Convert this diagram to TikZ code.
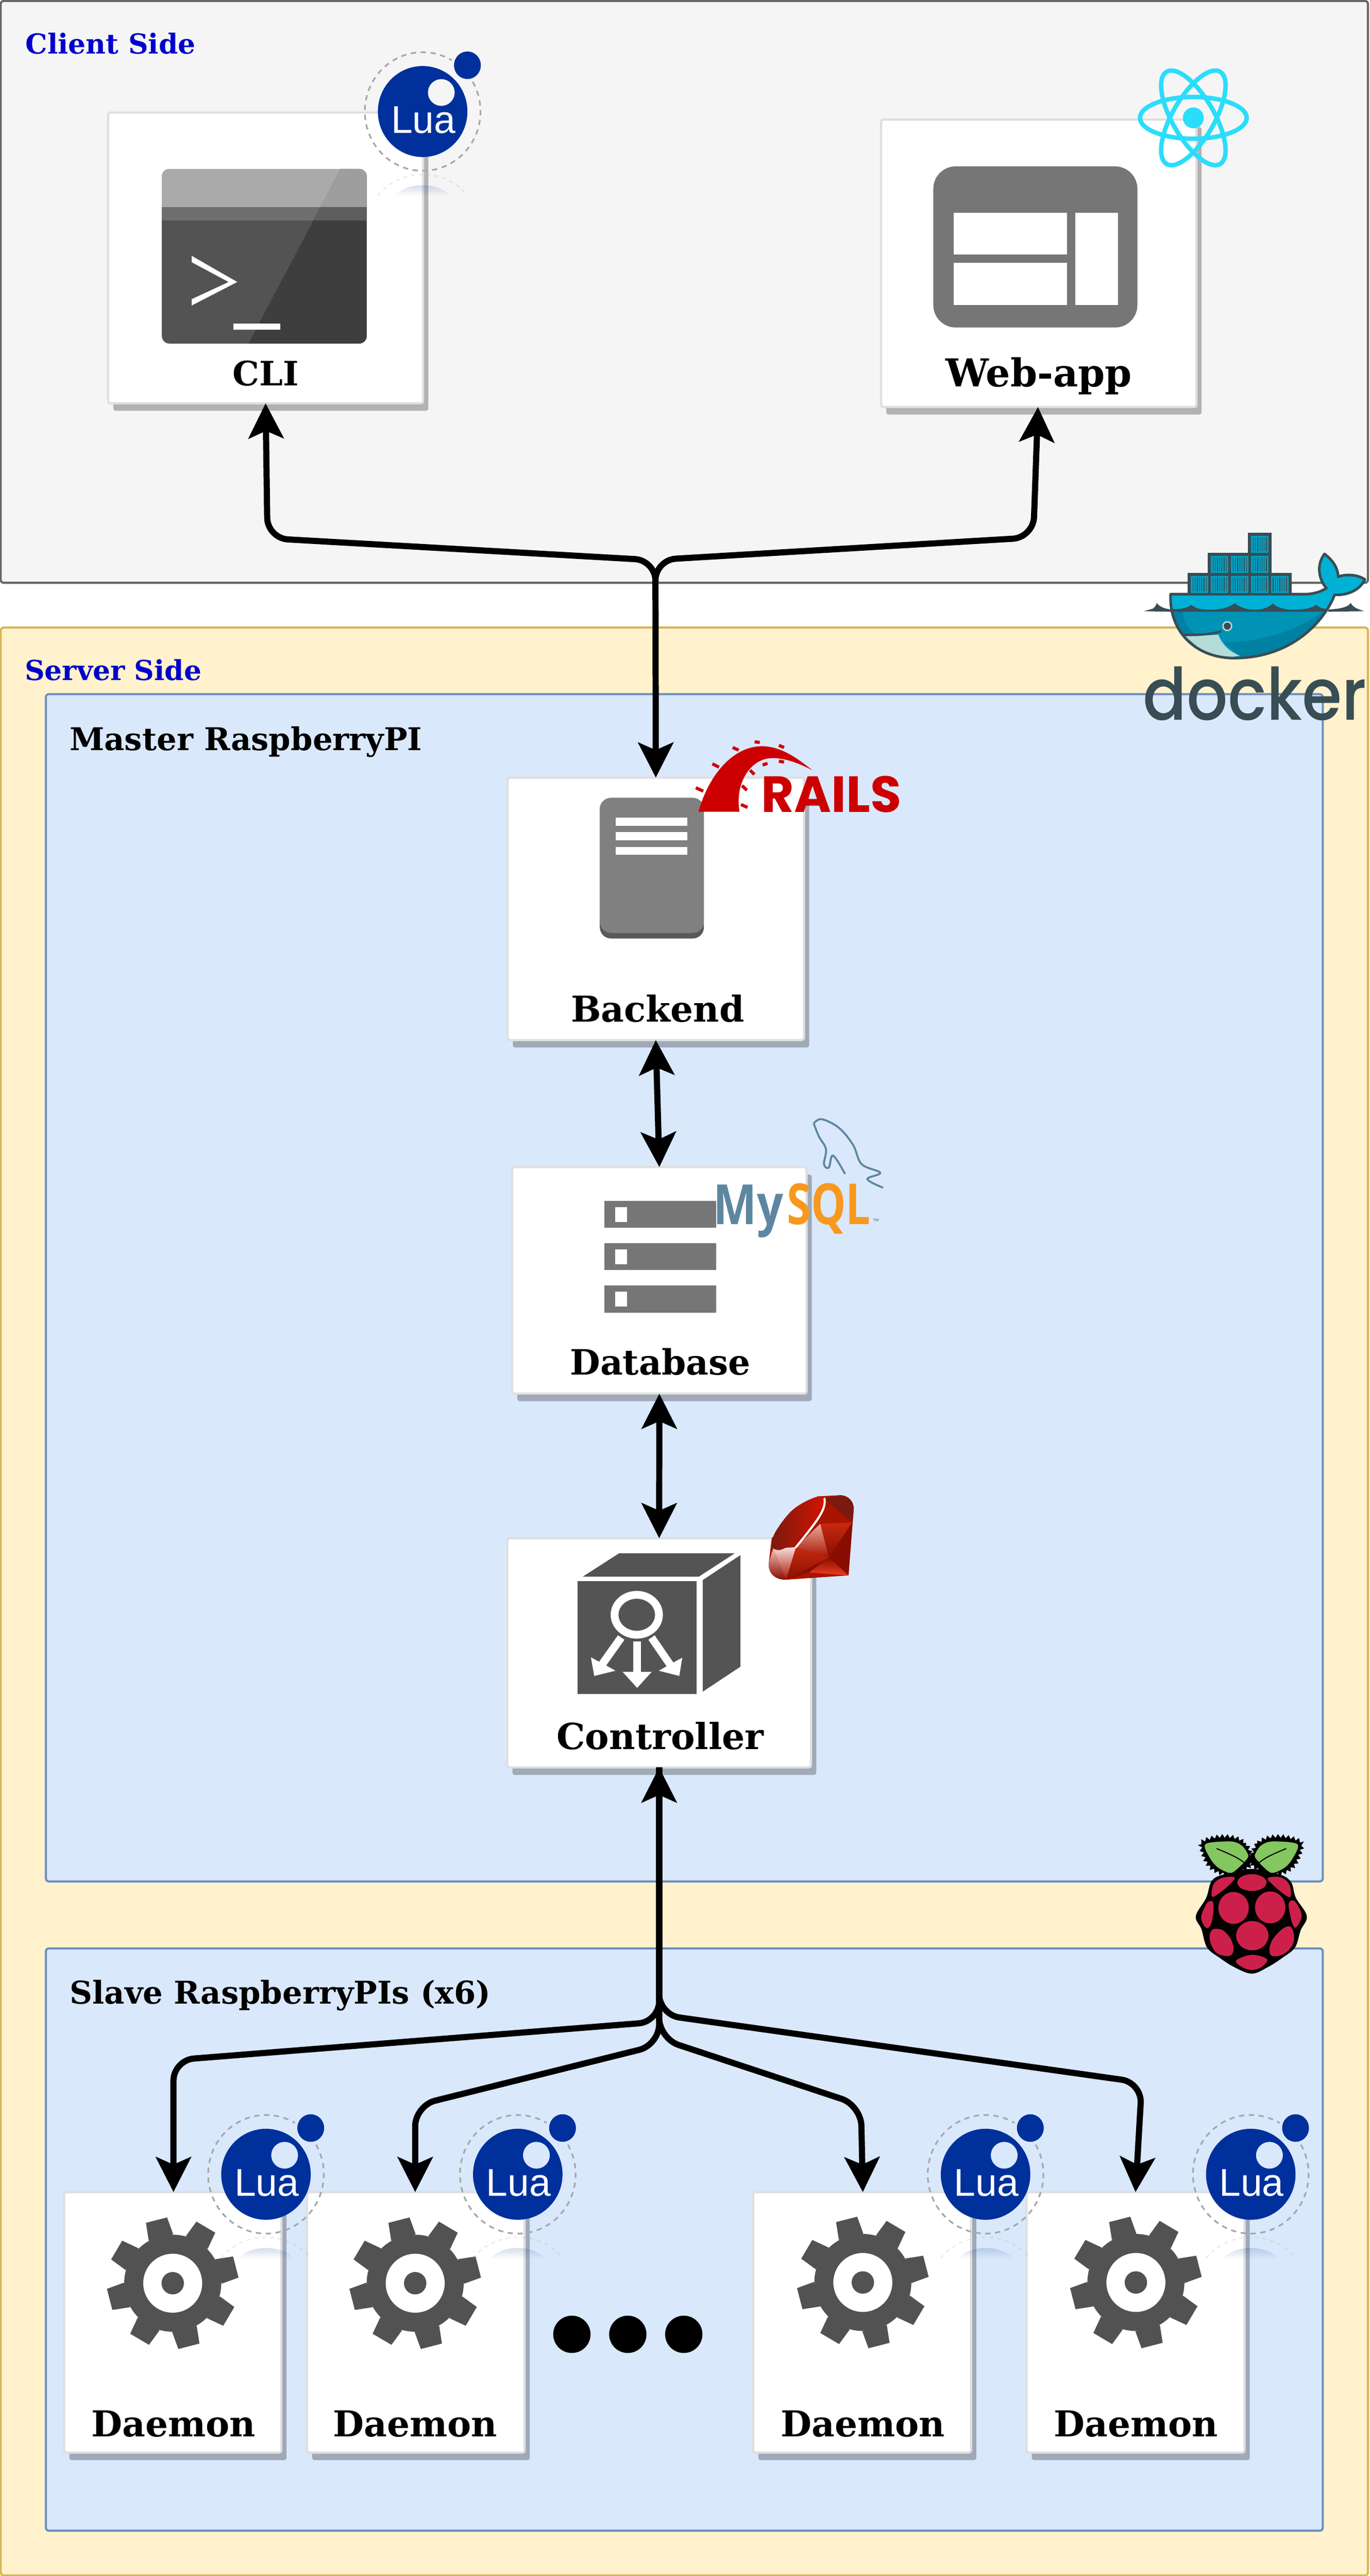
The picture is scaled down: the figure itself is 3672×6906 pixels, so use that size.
\documentclass[tikz,border=0pt]{standalone}
\usepackage{fontspec}
\usepackage{graphicx}
\usetikzlibrary{arrows.meta,shadows,fadings,decorations.pathmorphing}
\setmainfont{DejaVu Serif}
\newfontfamily\luafont{Liberation Sans}
\newfontfamily\mysqlfont{Open Sans}
\newfontfamily\dockerfont{Poppins Medium}
\newfontfamily\railsfont{Poppins}
\definecolor{clientfill}{HTML}{F5F5F5}
\definecolor{clientline}{HTML}{666666}
\definecolor{serverfill}{HTML}{FFF2CC}
\definecolor{serverline}{HTML}{D6B656}
\definecolor{piFill}{HTML}{DAE8FC}
\definecolor{piLine}{HTML}{6C8EBF}
\definecolor{cardline}{HTML}{DFDFDF}
\definecolor{titleblue}{HTML}{0000CC}
\definecolor{luablue}{HTML}{00309C}
\definecolor{orbitgray}{HTML}{A8A8A8}
\definecolor{gearc}{HTML}{525252}
\definecolor{webgray}{HTML}{767676}
\definecolor{reactc}{HTML}{2ADDFB}
\definecolor{railsred}{HTML}{CC0000}
\definecolor{sqlblue}{HTML}{5D87A1}
\definecolor{sqlorange}{HTML}{F8981D}
\definecolor{dockdark}{HTML}{394D54}
\definecolor{dockband}{HTML}{00B1D6}
\definecolor{dockmid}{HTML}{0093B6}
\definecolor{docklow}{HTML}{0081A3}
\definecolor{dockbelly}{HTML}{B5DBD9}
\definecolor{rasp}{HTML}{CC204A}
\definecolor{leaf}{HTML}{84C660}
\definecolor{rubya}{HTML}{A81400}
\definecolor{rubyb}{HTML}{8A0E00}
\definecolor{rubyc}{HTML}{C62A10}
\definecolor{rubyd}{HTML}{E83E20}
\definecolor{rubye}{HTML}{7A1A10}
\newcommand\fpx[1]{\fontsize{#1}{#1}\selectfont}
\tikzset{
  card/.style={draw=cardline,fill=white,line width=1.7pt,rounded corners=.06cm,inner sep=0pt,outer sep=0pt,
    drop shadow={shadow xshift=.14cm,shadow yshift=-.2cm,opacity=.27,fill=black}},
  group/.style={line width=1.6pt,rounded corners=.08cm,inner sep=0pt,outer sep=0pt},
  sectitle/.style={anchor=base west,inner sep=0pt,font=\bfseries\fpx{21pt}},
  subtitle/.style={anchor=base west,inner sep=0pt,font=\bfseries\fpx{23.9pt}},
  cardlabel/.style={anchor=base,inner sep=0pt,font=\bfseries\fpx{27.2pt}},
  link/.style={line width=4.7pt,rounded corners=.55cm,draw=black,
     >={Stealth[length=26.7pt,width=26.7pt,inset=5.7pt]}},
  lualabel/.style={anchor=base,inner sep=0pt,text=white,font=\luafont\fpx{29.5pt}},
  logotext/.style={anchor=base west,inner sep=0pt},
}
\newcommand\lualogo[3]{%
  \begin{scope}[shift={(#2,#3)}]
    \fill[luablue,fill opacity=.22,path fading=south] (-75,226) .. controls (-40,188) and (40,188) .. (75,226) -- cycle;
    \draw[orbitgray,opacity=.25,line width=.9pt,dash pattern=on 3pt off 3pt] (-120,225) .. controls (-60,150) and (60,150) .. (120,225);
    \draw[orbitgray,line width=1.3pt,dash pattern=on 4pt off 3.5pt] (-30:155 and 159) arc[start angle=-30,end angle=300,x radius=155,y radius=159];
    \fill[luablue,even odd rule] (0,0) ellipse[x radius=120,y radius=122] (50,-51) ellipse[x radius=36,y radius=36];
    \fill[luablue] (120,-124) ellipse[x radius=36,y radius=37];
    \node[lualabel] (#1) at (2,58) {Lua};
  \end{scope}}
\newcommand\gearicon[2]{%
  \begin{scope}[shift={(#1,#2)}]
    \fill[gearc] (0,0) circle[radius=1.30cm];
    \foreach \a in {-104.4,-59.4,-14.4,30.6,75.6,120.6,165.6,210.6}
      \fill[gearc] (\a-15:131) -- (\a-9.5:177) -- (\a+9.5:177) -- (\a+15:131) -- cycle;
    \fill[white] (0,0) circle[radius=.79cm];
    \fill[gearc] (0,0) circle[radius=.30cm];
  \end{scope}}
\begin{document}
\begin{tikzpicture}[x=.01cm,y=-.01cm]
\useasboundingbox (0,0) rectangle (3672,6906);
\fill[white] (0,0) rectangle (3672,6906);
%% groups
\node[group,draw=clientline,fill=clientfill,minimum width=36.63cm,minimum height=15.59cm] (client) at (1834.5,782.5) {};
\node[group,draw=serverline,fill=serverfill,minimum width=36.63cm,minimum height=52.19cm] (server) at (1834.5,4293.5) {};
\node[group,draw=piLine,fill=piFill,minimum width=34.21cm,minimum height=31.81cm] (master) at (1834.5,3452.5) {};
\node[group,draw=piLine,fill=piFill,minimum width=34.21cm,minimum height=15.60cm] (slave) at (1834.5,6004) {};
\node[sectitle,text=titleblue] (clienttitle) at (68,145) {Client Side};
\node[sectitle,text=titleblue] (servertitle) at (66,1824) {Server Side};
\node[subtitle] (mastertitle) at (186,2012) {Master RaspberryPI};
\node[subtitle] (slavetitle) at (187,5372) {Slave RaspberryPIs (x6)};
%% cards
\node[card,minimum width=8.44cm,minimum height=7.79cm] (cli) at (712,691.5) {};
\node[card,minimum width=8.45cm,minimum height=7.70cm] (web) at (2784.5,706) {};
\node[card,minimum width=7.94cm,minimum height=7.03cm] (backend) at (1758,2436.5) {};
\node[card,minimum width=7.89cm,minimum height=6.07cm] (database) at (1767.5,3432.5) {};
\node[card,minimum width=8.14cm,minimum height=6.14cm] (controller) at (1767,4431) {};
\node[card,minimum width=5.82cm,minimum height=6.98cm] (d1) at (463,6226) {};
\node[card,minimum width=5.83cm,minimum height=6.98cm] (d2) at (1114.5,6226) {};
\node[card,minimum width=5.84cm,minimum height=6.98cm] (d3) at (2311,6226) {};
\node[card,minimum width=5.84cm,minimum height=6.98cm] (d4) at (3044,6226) {};
%% labels
\node[cardlabel,font=\bfseries\fpx{25.6pt}] (clilabel) at (712,1034) {CLI};
\node[cardlabel,font=\bfseries\fpx{29.3pt}] (weblabel) at (2785,1036) {Web-app};
\node[cardlabel] (backendlabel) at (1763,2739) {Backend};
\node[cardlabel,font=\bfseries\fpx{26.6pt}] (databaselabel) at (1770,3686) {Database};
\node[cardlabel,font=\bfseries\fpx{27.4pt}] (controllerlabel) at (1770,4690) {Controller};
\node[cardlabel] (d1label) at (465,6532) {Daemon};
\node[cardlabel] (d2label) at (1113,6532) {Daemon};
\node[cardlabel] (d3label) at (2313,6532) {Daemon};
\node[cardlabel] (d4label) at (3045,6532) {Daemon};
%% CLI icon
\begin{scope}
  \clip[rounded corners=.2cm] (434,453) rectangle (983,921);
  \fill[black!67.5] (434,453) rectangle (983,921);
  \fill[black!33.5] (434,453) rectangle (983,555);
  \fill[black!57] (434,555) rectangle (983,591);
  \fill[black!75.5] (913,453) -- (666,921) -- (983,921) -- (983,453) -- cycle;
  \fill[black!38] (913,453) -- (859,555) -- (983,555) -- (983,453) -- cycle;
  \fill[black!63] (859,555) -- (840,591) -- (983,591) -- (983,555) -- cycle;
\end{scope}
\fill[white] (514,686) -- (636,756) -- (514,819) -- (514,802) -- (613,756) -- (514,703) -- cycle;
\fill[white] (626,867) rectangle (751,884);
%% web icon
\fill[webgray,rounded corners=.6cm] (2502,446) rectangle (3049,878);
\fill[white] (2556,571) rectangle (2861,682);
\fill[white] (2556,705) rectangle (2861,818);
\fill[white] (2882,571) rectangle (2997,818);
%% backend icon
\fill[black!65,rounded corners=.3cm] (1608,2139) rectangle (1887,2516);
\fill[black!50,rounded corners=.3cm] (1608,2139) rectangle (1887,2501);
\fill[white] (1651,2192) rectangle (1843,2214);
\fill[white] (1651,2231) rectangle (1843,2253);
\fill[white] (1651,2270) rectangle (1843,2292);
%% database icon
\foreach \ya/\yb/\sa/\sb in {3219/3291/3236/3276,3333/3404/3350/3390,3446/3519/3463/3503}{
  \fill[webgray] (1620,\ya) rectangle (1920,\yb);
  \fill[white] (1649,\sa) rectangle (1681,\sb);
}
%% controller icon
\fill[black!67] (1548,4239) rectangle (1868,4541);
\fill[black!67] (1562,4227) -- (1660,4164) -- (1970,4164) -- (1873,4227) -- cycle;
\fill[black!67] (1884,4236) -- (1985,4169) -- (1985,4468) -- (1884,4535) -- cycle;
\fill[white,even odd rule] (1707,4329) ellipse[x radius=70,y radius=64] (1707,4329) ellipse[x radius=49,y radius=43];
\fill[white] (1698,4401) rectangle (1718,4482);
\fill[white] (1669,4482) -- (1747,4482) -- (1708,4525) -- cycle;
\fill[white] (1656.5,4384) -- (1674,4396) -- (1625,4465) -- (1650,4479) -- (1593,4493) -- (1584,4443) -- (1606,4455) -- cycle;
\fill[white] (1755,4384) -- (1738,4396) -- (1787,4467) -- (1766,4479) -- (1821,4493) -- (1829,4444) -- (1805,4457) -- cycle;
%% gears
\gearicon{463}{6121}
\gearicon{1113}{6121}
\gearicon{2313}{6119}
\gearicon{3045}{6119}
%% dots
\fill[black] (1533,6258) circle[radius=.5cm];
\fill[black] (1683,6258) circle[radius=.5cm];
\fill[black] (1833,6258) circle[radius=.5cm];
%% lua logos
\lualogo{lua0}{1133}{299}
\lualogo{lua1}{713}{5829}
\lualogo{lua2}{1388}{5829}
\lualogo{lua3}{2642}{5829}
\lualogo{lua4}{3353}{5829}
%% react
\begin{scope}[shift={(3199,316)}]
  \foreach \r in {0,60,120}
    \draw[reactc,line width=3.4pt,rotate=\r] (0,0) ellipse[x radius=143,y radius=56];
  \fill[reactc] (0,0) circle[radius=.28cm];
\end{scope}
%% rails
\begin{scope}[shift={(1300,1950)},xscale=.765,yscale=1.148]
  \fill[railsred] (748,197) .. controls (790,100) and (880,44) .. (970,44) .. controls (1040,44) and (1100,75) .. (1147,100) .. controls (1090,80) and (1040,70) .. (1000,72) .. controls (930,75) and (875,130) .. (892,197) -- cycle;
  \draw[railsred,line width=2.4pt] (739,141)--(765,149) (797,85)--(820,93) (868,47)--(889,53) (945,34)--(963,35) (1030,42)--(1048,47) (1030,79)--(1048,81) (973,88)--(990,84) (929,100)--(944,110) (901,136)--(918,147) (897,180)--(920,187);
\end{scope}
\node[logotext,font=\railsfont\bfseries,text=railsred] (railstext) at (2040,2177) {\resizebox{3.75cm}{.97cm}{RAILS}};
%% mysql
\begin{scope}[shift={(1300,1950)},xscale=.765,yscale=1.148]
  \draw[sqlblue,line width=1.5pt] plot[smooth,tension=.6] coordinates {(1152,925)(1180,915)(1240,935)(1290,975)(1320,1020)(1385,1040)(1340,1055)(1395,1075)};
  \draw[sqlblue,line width=1.5pt] plot[smooth,tension=.6] coordinates {(1152,925)(1170,955)(1195,985)(1188,1020)(1205,1028)(1220,1000)(1262,1043)};
\end{scope}
\node[logotext,font=\mysqlfont\bfseries\fpx{42pt},text=sqlblue] (mysqlmy) at (1912,3282) {\resizebox{1.87cm}{1.06cm}{My}};
\node[logotext,font=\mysqlfont\bfseries\fpx{42pt},text=sqlorange] (mysqlsql) at (2109,3282) {\resizebox{2.24cm}{1.1cm}{SQL}};
\node[logotext,font=\mysqlfont\fpx{6pt},text=sqlblue] (mysqltm) at (2340,3282) {™};
%% ruby
\begin{scope}[shift={(1300,3900)},xscale=.765,yscale=.638]
  \fill[rubya] (1165,175) -- (1245,170) .. controls (1280,172) and (1295,205) .. (1292,235) -- (1274,507) -- (1055,525) .. controls (1010,525) and (990,490) .. (995,450) -- (1005,350) -- cycle;
  \fill[rubye] (1190,185) -- (1245,170) .. controls (1280,172) and (1295,205) .. (1292,235) -- (1287,285) -- cycle;
  \fill[rubya] (1190,185) -- (1287,285) -- (1175,290) -- cycle;
  \shade[top color=rubyc,bottom color=rubyb] (1175,290) -- (1287,285) -- (1205,432) -- cycle;
  \fill[rubyb] (1287,285) -- (1274,507) -- (1205,432) -- cycle;
  \shade[top color=rubyb,bottom color=rubyd] (1205,432) -- (1274,507) -- (1135,495) -- cycle;
  \fill[rubyb] (1205,432) -- (1135,495) -- (1055,525) -- cycle;
  \shade[top color=rubyc,bottom color=rubyb] (1090,388) -- (1205,432) -- (1055,525) -- cycle;
  \shade[top color=white!60!rubyc,bottom color=rubya] (1090,388) -- (1175,290) -- (1205,432) -- cycle;
  \shade[top color=white!85!rubyc,bottom color=rubya] (1010,395) -- (1090,388) -- (1055,525) -- cycle;
  \shade[top color=white!70!rubyc,bottom color=rubyb] (1010,395) -- (1055,525) .. controls (1010,525) and (990,490) .. (995,450) -- cycle;
  \shade[left color=rubye,right color=red!80!black!85!orange] plot[smooth cycle,tension=.6] coordinates {(1005,375)(1020,320)(1080,230)(1160,178)(1190,195)(1170,270)(1090,360)(1040,398)(1012,395)};
  \draw[white,line width=1.6pt,line cap=round] (1190,185) .. controls (1195,230) and (1170,270) .. (1090,388);
\end{scope}
%% raspberry
\begin{scope}[shift={(3000,4800)},xscale=.4286,yscale=.7015]
  \fill[black,decorate,decoration={zigzag,segment length=.14cm,amplitude=.05cm}] plot[smooth cycle,tension=.6] coordinates {(825,240)(790,200)(720,178)(620,175)(515,195)(515,230)(560,290)(650,320)(760,310)(825,285)};
  \fill[black,decorate,decoration={zigzag,segment length=.14cm,amplitude=.05cm}] plot[smooth cycle,tension=.6] coordinates {(830,240)(865,200)(935,178)(1035,175)(1140,195)(1140,230)(1095,290)(1005,320)(895,310)(830,285)};
  \fill[black] plot[smooth cycle,tension=.6] coordinates {(830,300)(1000,320)(1075,350)(1105,410)(1174,480)(1135,535)(1100,600)(1020,640)(930,675)(830,700)(720,675)(630,640)(550,600)(515,530)(480,480)(545,410)(580,345)(660,320)};
  \fill[leaf] plot[smooth cycle,tension=.5] coordinates {(808,250)(770,212)(700,195)(540,205)(570,260)(620,295)(700,315)(765,285)(780,275)};
  \fill[leaf] plot[smooth cycle,tension=.5] coordinates {(848,250)(885,212)(955,195)(1115,205)(1085,260)(1035,295)(955,315)(890,285)(878,275)};
  \draw[black,line width=.8pt] (610,222) .. controls (680,240) and (740,255) .. (780,275);
  \draw[black,line width=.8pt] (1045,222) .. controls (975,240) and (915,255) .. (878,275);
  \fill[rasp] (831,352) ellipse[x radius=91,y radius=32];
  \fill[rasp] (716,449) ellipse[x radius=95,y radius=61];
  \fill[rasp] (945,447) ellipse[x radius=95,y radius=61];
  \fill[rasp] (833,555) ellipse[x radius=101,y radius=56];
  \fill[rasp] plot[smooth cycle,tension=.6] coordinates {(580,405)(590,360)(640,335)(722,332)(690,360)(620,395)};
  \fill[rasp] plot[smooth cycle,tension=.6] coordinates {(930,335)(1010,332)(1065,360)(1073,405)(1040,400)(970,365)};
  \fill[rasp] plot[smooth cycle,tension=.6] coordinates {(566,555)(590,530)(650,535)(700,570)(716,610)(690,632)(620,625)(580,595)};
  \fill[rasp] plot[smooth cycle,tension=.6] coordinates {(940,610)(960,570)(1020,530)(1070,520)(1093,550)(1085,590)(1030,625)(960,633)};
  \fill[rasp] plot[smooth cycle,tension=.6] coordinates {(514,480)(550,430)(585,425)(590,460)(575,510)(550,526)(525,510)};
  \fill[rasp] plot[smooth cycle,tension=.6] coordinates {(1062,430)(1095,422)(1135,460)(1139,490)(1105,524)(1085,510)(1068,470)};
  \fill[rasp] plot[smooth cycle,tension=.6] coordinates {(732,650)(830,628)(925,645)(890,675)(830,686)(770,675)};
\end{scope}
%% docker
\begin{scope}[shift={(3050,1400)},xscale=.3967,yscale=.3571]
  \fill[dockdark] (40,668) -- (100,650) .. controls (115,640) and (125,625) .. (128,605) .. controls (140,630) and (180,650) .. (222,655) -- (222,672) -- cycle;
  \fill[dockdark] (1530,668) -- (1485,650) .. controls (1465,640) and (1445,625) .. (1440,605) .. controls (1425,635) and (1370,652) .. (1290,655) -- (1285,672) -- cycle;
  \def\whalepath{(222,540) -- (1130,540) .. controls (1190,540) and (1240,520) .. (1275,495) .. controls (1230,440) and (1200,330) .. (1262,238) .. controls (1310,280) and (1350,330) .. (1355,410) .. controls (1410,385) and (1490,395) .. (1535,430) .. controls (1500,510) and (1420,550) .. (1330,545) .. controls (1270,720) and (1060,1020) .. (650,1020) .. controls (400,1020) and (210,830) .. (222,540) -- cycle}
  \fill[dockmid] \whalepath;
  \begin{scope}
    \clip \whalepath;
    \fill[dockband] (200,200) rectangle (1600,662);
    \fill[docklow] (1255,670) .. controls (1100,800) and (850,900) .. (580,900) -- (690,1003) -- (1300,1030) -- (1350,670) -- cycle;
    \fill[docklow] (200,670) -- (305,670) .. controls (305,740) and (340,800) .. (390,840) -- (300,850) -- cycle;
    \fill[dockbelly] (320,855) -- (545,845) .. controls (570,920) and (620,970) .. (690,1003) -- (500,1030) -- cycle;
    \fill[dockdark] (200,652) -- (240,652) .. controls (300,655) and (340,640) .. (362,620) .. controls (390,650) and (440,658) .. (490,657) .. controls (560,657) and (620,640) .. (655,608) .. controls (690,640) and (740,658) .. (790,657) .. controls (840,657) and (890,640) .. (912,610) .. controls (950,650) and (1010,658) .. (1060,657) .. controls (1120,657) and (1180,645) .. (1205,620) .. controls (1225,640) and (1250,650) .. (1270,650) -- (1300,672) -- (200,672) -- cycle;
  \end{scope}
  \draw[dockdark,line width=2pt,line join=round] \whalepath;
  \draw[dockdark,line width=1.8pt,line cap=round] (310,845) .. controls (400,850) and (490,842) .. (560,820);
  \fill[dockbelly] (605,780) ellipse[x radius=34,y radius=38];
  \fill[dockdark] (605,780) ellipse[x radius=24,y radius=27];
  \fill[dockdark] (337,380) rectangle (1040,545);
  \fill[dockdark] (472,230) rectangle (903,385);
  \fill[dockdark] (743,78) rectangle (903,235);
  \foreach \cx/\cy in {358/404,494/404,630/404,765/404,900/404,494/254,630/254,765/254,765/103}{
    \fill[dockband!90!black] (\cx,\cy) rectangle ++(119,128);
    \foreach \k in {1,...,7}
      \draw[dockdark,line width=.5pt] ({\cx+\k*15},{\cy+12}) -- ++(0,104);
  }
\end{scope}
\node[anchor=base west,inner sep=0pt,text=dockdark,font=\dockerfont] (dockertext) at (3064,1930) {\resizebox{5.99cm}{1.43cm}{docker}};
%% connectors
\draw[link,<->] (cli.south) -- (717,1443) -- (1757,1502) -- (backend.north);
\draw[link,->] (1757,1560) -- (1757,1501) -- (2770,1441) -- ([xshift=-.02cm]web.south);
\draw[link,<->] (backend.south) -- (database.north);
\draw[link,<->] (database.south) -- (controller.north);
\draw[link,<->] (controller.south) -- (1767,5420) -- (465,5523) -- ([xshift=.02cm]d1.north);
\draw[link,->] (controller.south) -- (1767,5482) -- (1113,5645) -- ([xshift=-.015cm]d2.north);
\draw[link,->] (controller.south) -- (1767,5465) -- (2308,5644) -- ([xshift=.02cm]d3.north);
\draw[link,->] (controller.south) -- (1767,5401) -- (3061,5583) -- (d4.north);
\end{tikzpicture}
\end{document}
